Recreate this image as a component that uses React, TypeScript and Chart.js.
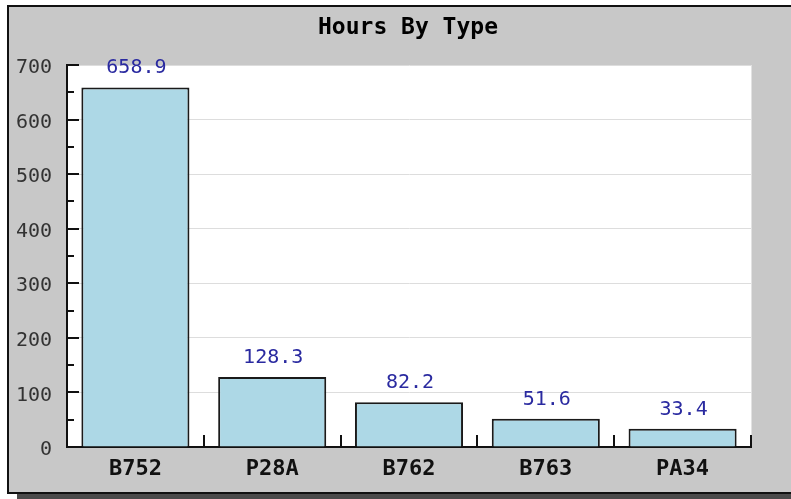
import React, { useEffect, useRef } from "react";
import { Chart, registerables } from "chart.js";

Chart.register(...registerables);

const TITLE = "Hours By Type";
const categories = ["B752", "P28A", "B762", "B763", "PA34"];
const hours = [658.9, 128.3, 82.2, 51.6, 33.4];
const yTicks = [0, 100, 200, 300, 400, 500, 600, 700];
const minorTicks = [50, 150, 250, 350, 450, 550, 650];

const MONO = "'DejaVu Sans Mono', 'Liberation Mono', monospace";

const decorPlugin = {
  id: "decor",
  beforeDraw(chart: any) {
    const { ctx, width, height, chartArea } = chart;
    ctx.save();
    ctx.fillStyle = "#ffffff";
    ctx.fillRect(0, 0, width, height);
    // shadow
    ctx.fillStyle = "#4a4a4a";
    ctx.fillRect(17, 494, width - 17, height - 494);
    // panel
    ctx.fillStyle = "#c8c8c8";
    ctx.fillRect(7, 5, width, 489);
    ctx.strokeStyle = "#111111";
    ctx.lineWidth = 2;
    ctx.beginPath();
    ctx.moveTo(8, 494);
    ctx.lineTo(8, 6);
    ctx.lineTo(width + 2, 6);
    ctx.moveTo(7, 493);
    ctx.lineTo(width + 2, 493);
    ctx.stroke();
    // plot area
    ctx.fillStyle = "#ffffff";
    ctx.fillRect(chartArea.left, chartArea.top, chartArea.right - chartArea.left, chartArea.bottom - chartArea.top);
    ctx.strokeStyle = "#e2e2e2";
    ctx.lineWidth = 1;
    ctx.beginPath();
    ctx.moveTo(chartArea.right + 0.5, chartArea.top);
    ctx.lineTo(chartArea.right + 0.5, chartArea.bottom);
    ctx.stroke();
    ctx.restore();
  },
  afterDraw(chart: any) {
    const { ctx, chartArea, scales } = chart;
    const y = scales.y;
    const x = scales.x;
    ctx.save();
    ctx.strokeStyle = "#111111";
    ctx.lineWidth = 2;
    ctx.beginPath();
    yTicks.forEach((v) => {
      const py = Math.round(y.getPixelForValue(v));
      ctx.moveTo(chartArea.left, py);
      ctx.lineTo(chartArea.left + 12, py);
    });
    minorTicks.forEach((v) => {
      const py = Math.round(y.getPixelForValue(v));
      ctx.moveTo(chartArea.left, py);
      ctx.lineTo(chartArea.left + 7, py);
    });
    const n = categories.length;
    for (let i = 1; i <= n; i++) {
      const px = Math.round(x.getPixelForValue(i - 0.5));
      ctx.moveTo(px, chartArea.bottom);
      ctx.lineTo(px, chartArea.bottom - 12);
    }
    ctx.stroke();

    // title
    ctx.fillStyle = "#000000";
    ctx.font = `bold 23px ${MONO}`;
    ctx.textAlign = "center";
    ctx.textBaseline = "middle";
    ctx.fillText(TITLE, 408, 28);

    // value labels
    ctx.fillStyle = "#2a2aa0";
    ctx.font = `20px ${MONO}`;
    ctx.textBaseline = "alphabetic";
    const meta = chart.getDatasetMeta(0);
    meta.data.forEach((bar: any, i: number) => {
      ctx.fillText(hours[i].toFixed(1), bar.x + 1, bar.y - 14);
    });
    ctx.restore();
  },
};

export default function App() {
  const ref = useRef<HTMLCanvasElement | null>(null);
  useEffect(() => {
    if (!ref.current) return;
    const chart = new Chart(ref.current, {
      type: "bar",
      data: {
        labels: categories,
        datasets: [
          {
            data: hours,
            backgroundColor: "#add8e6",
            borderColor: "#1a1a1a",
            borderWidth: 2,
            categoryPercentage: 1,
            barPercentage: 0.79,
          },
        ],
      },
      options: {
        responsive: false,
        animation: false,
        devicePixelRatio: 1,
        layout: { padding: { left: 0, top: 65, right: 40, bottom: 0 } },
        plugins: {
          legend: { display: false },
          title: { display: false },
          tooltip: { enabled: false },
        },
        scales: {
          x: {
            grid: { display: false, drawTicks: false },
            border: { display: true, color: "#111111", width: 2 },
            ticks: {
              color: "#111111",
              font: { family: MONO, size: 22, weight: "bold" },
              padding: 9,
            },
            afterFit(scale: any) {
              scale.height = 52;
            },
          },
          y: {
            min: 0,
            max: 700,
            grid: { color: "#dddddd", drawTicks: false },
            border: { display: true, color: "#111111", width: 2 },
            ticks: {
              stepSize: 100,
              color: "#333333",
              font: { family: MONO, size: 20 },
              padding: 15,
              labelOffset: 3,
            },
            afterFit(scale: any) {
              scale.width = 67;
            },
          },
        },
      },
      plugins: [decorPlugin],
    });
    return () => chart.destroy();
  }, []);
  return (
    <div style={{ position: "absolute", left: 0, top: 0, width: 791, height: 499 }}>
      <canvas ref={ref} width={791} height={499} />
    </div>
  );
}
